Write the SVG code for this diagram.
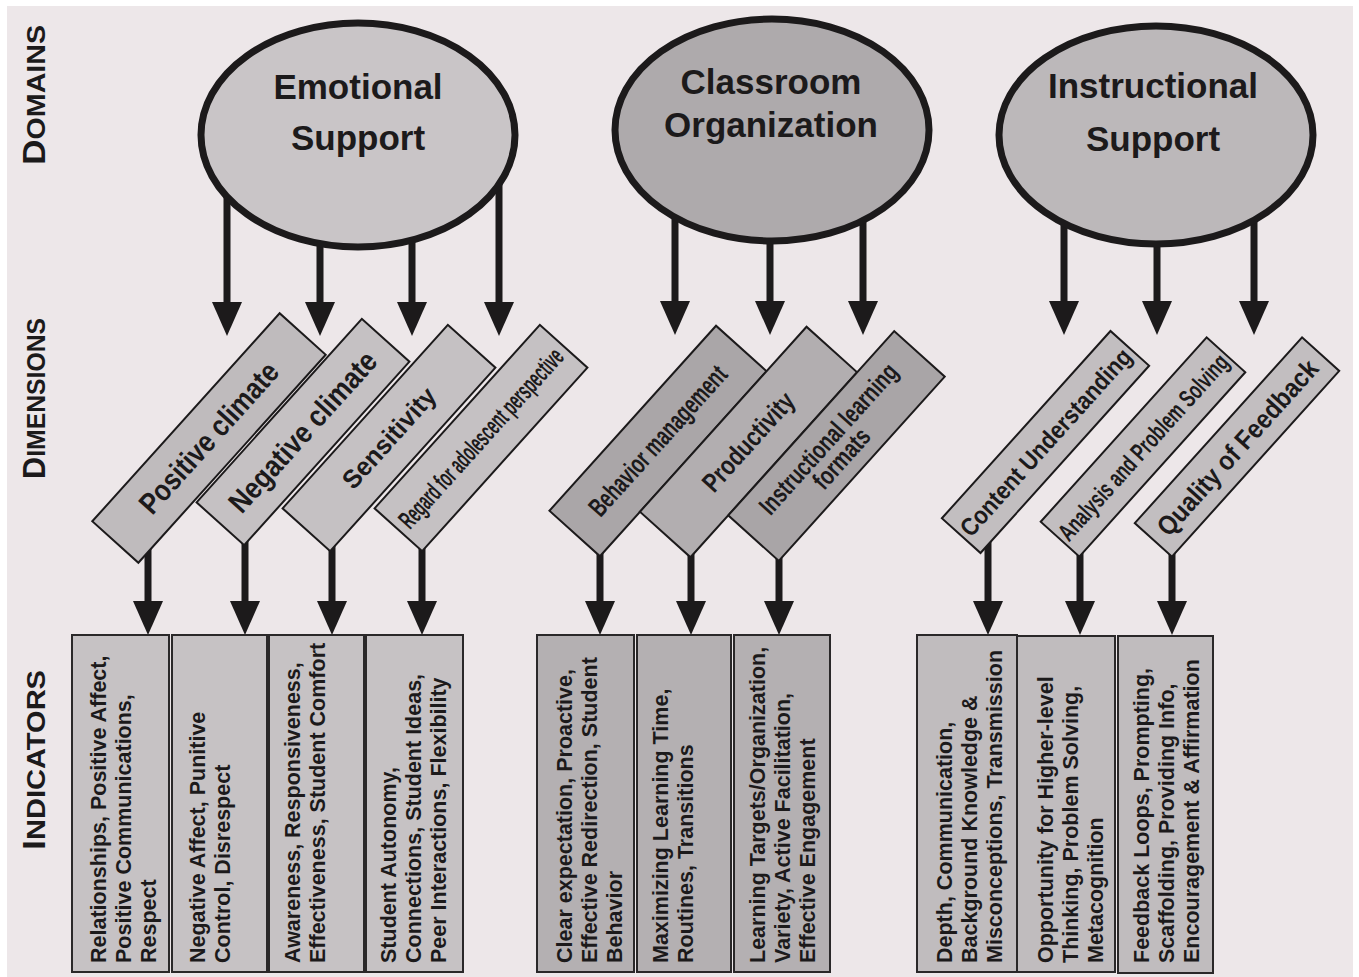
<svg xmlns="http://www.w3.org/2000/svg" width="1359" height="977" viewBox="0 0 1359 977">
<defs>
<marker id="ah" viewBox="0 0 34 30" refX="14" refY="15" markerWidth="34" markerHeight="30" markerUnits="userSpaceOnUse" orient="auto">
<path d="M0,0 L34,15 L0,30 z" fill="#1c1a1b"/>
</marker>
<style>
.conn line{stroke:#1c1a1b;stroke-width:7;marker-end:url(#ah)}
.dom ellipse{stroke:#1c1a1b;stroke-width:7}
.dom text{font-family:"Liberation Sans",Arial,sans-serif;font-weight:bold;font-size:35px;fill:#1c1a1b;text-anchor:middle}
.dim rect{stroke:#1c1a1b;stroke-width:2}
.dim text{font-family:"Liberation Sans",Arial,sans-serif;font-weight:bold;fill:#1c1a1b;text-anchor:middle}
.ind rect{stroke:#2a2829;stroke-width:2}
.ind text{font-family:"Liberation Sans",Arial,sans-serif;font-weight:bold;font-size:21.5px;fill:#1c1a1b}
.lbl{font-family:"Liberation Sans",Arial,sans-serif;font-weight:bold;fill:#1c1a1b}
</style>
</defs>
<rect x="0" y="0" width="1359" height="977" fill="#ffffff"/>
<rect x="7" y="6" width="1346" height="971" fill="#ede7e9"/>

<g id="side-labels">
<text class="lbl" transform="translate(45,165) rotate(-90)" textLength="140" lengthAdjust="spacingAndGlyphs"><tspan font-size="31">D</tspan><tspan font-size="25">OMAINS</tspan></text>
<text class="lbl" transform="translate(45,479) rotate(-90)" textLength="161" lengthAdjust="spacingAndGlyphs"><tspan font-size="31">D</tspan><tspan font-size="25">IMENSIONS</tspan></text>
<text class="lbl" transform="translate(45,850) rotate(-90)" textLength="180" lengthAdjust="spacingAndGlyphs"><tspan font-size="31">I</tspan><tspan font-size="25">NDICATORS</tspan></text>
</g>

<g id="connectors" class="conn">
<line x1="227" y1="160" x2="227" y2="316"/>
<line x1="320" y1="160" x2="320" y2="316"/>
<line x1="412" y1="160" x2="412" y2="316"/>
<line x1="499" y1="160" x2="499" y2="316"/>
<line x1="675" y1="160" x2="675" y2="315"/>
<line x1="770" y1="160" x2="770" y2="315"/>
<line x1="863" y1="160" x2="863" y2="315"/>
<line x1="1064" y1="160" x2="1064" y2="315"/>
<line x1="1157" y1="160" x2="1157" y2="315"/>
<line x1="1254" y1="160" x2="1254" y2="315"/>
<line x1="148" y1="548" x2="148" y2="615"/>
<line x1="245" y1="535" x2="245" y2="615"/>
<line x1="332" y1="540" x2="332" y2="615"/>
<line x1="422" y1="540" x2="422" y2="615"/>
<line x1="600" y1="545" x2="600" y2="615"/>
<line x1="691" y1="545" x2="691" y2="615"/>
<line x1="779" y1="550" x2="779" y2="615"/>
<line x1="988" y1="538" x2="988" y2="615"/>
<line x1="1080" y1="545" x2="1080" y2="615"/>
<line x1="1172" y1="545" x2="1172" y2="615"/>
</g>

<g id="domain-emotional" class="dom">
<ellipse cx="358" cy="135" rx="157" ry="112" fill="#c9c5c7"/>
<text x="358" y="99">Emotional</text>
<text x="358" y="150">Support</text>
</g>
<g id="domain-classroom" class="dom">
<ellipse cx="772" cy="130" rx="157" ry="111" fill="#aeaaac"/>
<text x="771" y="94">Classroom</text>
<text x="771" y="137">Organization</text>
</g>
<g id="domain-instructional" class="dom">
<ellipse cx="1156" cy="135" rx="157" ry="109" fill="#bcb8ba"/>
<text x="1153" y="98">Instructional</text>
<text x="1153" y="151">Support</text>
</g>

<g id="dim-positive-climate" class="dim" transform="translate(209,438) rotate(-48)">
<rect x="-140" y="-31" width="280" height="62" fill="#bfbbbd"/>
<text y="10" font-size="30" textLength="192" lengthAdjust="spacingAndGlyphs">Positive climate</text>
</g>
<g id="dim-negative-climate" class="dim" transform="translate(303,432) rotate(-48)">
<rect x="-123.5" y="-32" width="247" height="64" fill="#c5c1c3"/>
<text y="10" font-size="30" textLength="205" lengthAdjust="spacingAndGlyphs">Negative climate</text>
</g>
<g id="dim-sensitivity" class="dim" transform="translate(389,438) rotate(-48)">
<rect x="-123.5" y="-32" width="247" height="64" fill="#c5c1c3"/>
<text y="9" font-size="26" textLength="126" lengthAdjust="spacingAndGlyphs">Sensitivity</text>
</g>
<g id="dim-regard" class="dim" transform="translate(481,438) rotate(-48)">
<rect x="-123.5" y="-32" width="247" height="64" fill="#c5c1c3"/>
<text y="9" font-size="26" textLength="232" lengthAdjust="spacingAndGlyphs">Regard for adolescent perspective</text>
</g>

<g id="dim-behavior-management" class="dim" transform="translate(658,441) rotate(-48)">
<rect x="-124.5" y="-34" width="249" height="68" fill="#aaa6a8"/>
<text y="9" font-size="27" textLength="192" lengthAdjust="spacingAndGlyphs">Behavior management</text>
</g>
<g id="dim-productivity" class="dim" transform="translate(748.5,442) rotate(-48)">
<rect x="-124.5" y="-34" width="249" height="68" fill="#b2aeb0"/>
<text y="9" font-size="27" textLength="123" lengthAdjust="spacingAndGlyphs">Productivity</text>
</g>
<g id="dim-instructional-learning-formats" class="dim" transform="translate(836.5,446) rotate(-48)">
<rect x="-124" y="-34" width="248" height="68" fill="#a9a5a7"/>
<text y="-2" font-size="26" textLength="193" lengthAdjust="spacingAndGlyphs">Instructional learning</text>
<text x="-6" y="21" font-size="26" textLength="72" lengthAdjust="spacingAndGlyphs">formats</text>
</g>

<g id="dim-content-understanding" class="dim" transform="translate(1045.5,442) rotate(-48)">
<rect x="-126" y="-26" width="252" height="52" fill="#c2bec0"/>
<text y="9" font-size="25" textLength="243" lengthAdjust="spacingAndGlyphs">Content Understanding</text>
</g>
<g id="dim-analysis-problem-solving" class="dim" transform="translate(1143,447) rotate(-48)">
<rect x="-124" y="-26" width="248" height="52" fill="#c2bec0"/>
<text y="9" font-size="25" textLength="241" lengthAdjust="spacingAndGlyphs">Analysis and Problem Solving</text>
</g>
<g id="dim-quality-of-feedback" class="dim" transform="translate(1237,447) rotate(-48)">
<rect x="-125" y="-25" width="250" height="50" fill="#c2bec0"/>
<text y="10" font-size="27" textLength="226" lengthAdjust="spacingAndGlyphs">Quality of Feedback</text>
</g>

<g id="ind-positive-climate" class="ind">
<rect x="72" y="635" width="97" height="337" fill="#c6c2c4"/>
<text transform="translate(106,963) rotate(-90)"><tspan x="0" y="0">Relationships, Positive Affect,</tspan><tspan x="0" y="25">Positive Communications,</tspan><tspan x="0" y="50">Respect</tspan></text>
</g>
<g id="ind-negative-climate" class="ind">
<rect x="172" y="635" width="95" height="337" fill="#c6c2c4"/>
<text transform="translate(205,963) rotate(-90)"><tspan x="0" y="0">Negative Affect, Punitive</tspan><tspan x="0" y="25">Control, Disrespect</tspan></text>
</g>
<g id="ind-sensitivity" class="ind">
<rect x="269" y="635" width="95" height="337" fill="#c6c2c4"/>
<text transform="translate(300,963) rotate(-90)"><tspan x="0" y="0">Awareness, Responsiveness,</tspan><tspan x="0" y="25">Effectiveness, Student Comfort</tspan></text>
</g>
<g id="ind-regard" class="ind">
<rect x="366" y="635" width="97" height="337" fill="#c6c2c4"/>
<text transform="translate(396,963) rotate(-90)"><tspan x="0" y="0">Student Autonomy,</tspan><tspan x="0" y="25">Connections, Student Ideas,</tspan><tspan x="0" y="50">Peer Interactions, Flexibility</tspan></text>
</g>

<g id="ind-behavior-management" class="ind">
<rect x="537" y="635" width="97" height="337" fill="#b4b0b2"/>
<text transform="translate(572,963) rotate(-90)"><tspan x="0" y="0">Clear expectation,  Proactive,</tspan><tspan x="0" y="25">Effective Redirection, Student</tspan><tspan x="0" y="50">Behavior</tspan></text>
</g>
<g id="ind-productivity" class="ind">
<rect x="637" y="635" width="94" height="337" fill="#b4b0b2"/>
<text transform="translate(668,963) rotate(-90)"><tspan x="0" y="0">Maximizing Learning Time,</tspan><tspan x="0" y="25">Routines, Transitions</tspan></text>
</g>
<g id="ind-instructional-learning-formats" class="ind">
<rect x="734" y="635" width="96" height="337" fill="#b4b0b2"/>
<text transform="translate(765,963) rotate(-90)"><tspan x="0" y="0">Learning Targets/Organization,</tspan><tspan x="0" y="25">Variety, Active Facilitation,</tspan><tspan x="0" y="50">Effective Engagement</tspan></text>
</g>

<g id="ind-content-understanding" class="ind">
<rect x="917" y="635" width="100" height="337" fill="#c0bcbe"/>
<text transform="translate(952,963) rotate(-90)"><tspan x="0" y="0">Depth, Communication,</tspan><tspan x="0" y="25">Background Knowledge &amp;</tspan><tspan x="0" y="50">Misconceptions, Transmission</tspan></text>
</g>
<g id="ind-analysis-problem-solving" class="ind">
<rect x="1017" y="636" width="98" height="336" fill="#c0bcbe"/>
<text transform="translate(1053,963) rotate(-90)"><tspan x="0" y="0">Opportunity for Higher-level</tspan><tspan x="0" y="25">Thinking, Problem Solving,</tspan><tspan x="0" y="50">Metacognition</tspan></text>
</g>
<g id="ind-quality-of-feedback" class="ind">
<rect x="1118" y="636" width="95" height="337" fill="#c0bcbe"/>
<text transform="translate(1149,963) rotate(-90)"><tspan x="0" y="0">Feedback Loops, Prompting,</tspan><tspan x="0" y="25">Scaffolding, Providing Info,</tspan><tspan x="0" y="50">Encouragement &amp; Affirmation</tspan></text>
</g>
</svg>
